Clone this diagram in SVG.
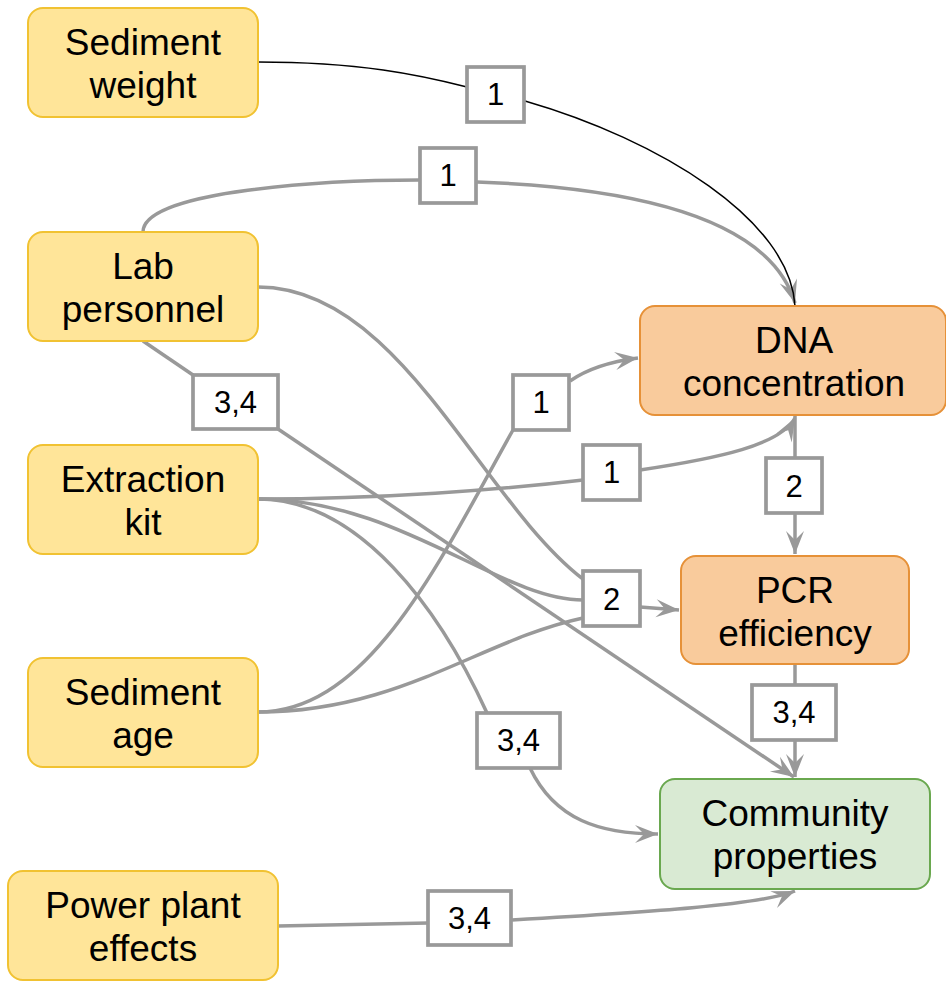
<svg xmlns="http://www.w3.org/2000/svg" width="946" height="981" viewBox="0 0 946 981">
<style>
.in rect{fill:#FFE599;stroke:#F1C232;stroke-width:2}
.or rect{fill:#F9CB9C;stroke:#E69138;stroke-width:2}
.gr rect{fill:#D9EAD3;stroke:#6AA84F;stroke-width:2}
.node text{font-family:"Liberation Sans",Arial,sans-serif;font-size:37px;fill:#000;text-anchor:middle}
.lbl rect{fill:#fff;stroke:#999;stroke-width:3.7}
.lbl text{font-family:"Liberation Sans",Arial,sans-serif;font-size:31px;fill:#000;text-anchor:middle}
.e{fill:none;stroke:#999;stroke-width:3.5}
.k{fill:none;stroke:#000;stroke-width:1.5}
</style>
<defs>
<marker id="arr" viewBox="-26 -11 28 22" refX="0" refY="0" markerWidth="28" markerHeight="22" markerUnits="userSpaceOnUse" orient="auto">
<path d="M0,0 L-23,-9 L-14,0 L-23,9 Z" fill="#999"/>
</marker>
</defs>
<g id="connectors">
<path class="e" d="M143,232 C143,190 330,180 420,180"/>
<path class="e" d="M477,182 C640,188 770,220 795,303" marker-end="url(#arr)"/>
<path class="e" d="M258,287 C400,287 480,500 583,579"/>
<path class="e" d="M143,341 L193,375"/>
<path class="e" d="M278,429 L794,777" marker-end="url(#arr)"/>
<path class="e" d="M258,499 C380,499 500,490 583,480"/>
<path class="e" d="M640,470 C720,458 780,445 795,418" marker-end="url(#arr)"/>
<path class="e" d="M258,499 C400,499 500,600 583,600"/>
<path class="e" d="M258,499 C360,499 440,610 487,713"/>
<path class="e" d="M530,768 C555,820 600,834 658,834" marker-end="url(#arr)"/>
<path class="e" d="M258,712 C370,712 440,560 513,430"/>
<path class="e" d="M570,381 C590,367 615,361 638,358" marker-end="url(#arr)"/>
<path class="e" d="M258,712 C400,712 480,640 583,618"/>
<path class="e" d="M640,607 L679,610" marker-end="url(#arr)"/>
<path class="e" d="M795,416 L795,458"/>
<path class="e" d="M795,513 L795,554" marker-end="url(#arr)"/>
<path class="e" d="M795,665 L795,685"/>
<path class="e" d="M795,740 L795,777" marker-end="url(#arr)"/>
<path class="e" d="M278,926 L428,923"/>
<path class="e" d="M512,920 C650,912 760,905 795,891" marker-end="url(#arr)"/>
<path class="k" d="M258,62 C360,62 420,75 467,87"/>
<path class="k" d="M525,101 C660,140 790,220 795,306"/>
</g>
<g id="labels">
<g class="lbl" id="l1"><rect x="467" y="67" width="57" height="55"/><text x="495.5" y="105">1</text></g>
<g class="lbl" id="l2"><rect x="420" y="148" width="56" height="55"/><text x="448" y="186">1</text></g>
<g class="lbl" id="l3"><rect x="193" y="375" width="85" height="54"/><text x="235.5" y="413">3,4</text></g>
<g class="lbl" id="l4"><rect x="513" y="375" width="56" height="55"/><text x="541" y="413">1</text></g>
<g class="lbl" id="l5"><rect x="583" y="445" width="57" height="55"/><text x="611.5" y="483">1</text></g>
<g class="lbl" id="l6"><rect x="766" y="458" width="56" height="55"/><text x="794" y="497">2</text></g>
<g class="lbl" id="l7"><rect x="583" y="571" width="57" height="55"/><text x="611.5" y="610">2</text></g>
<g class="lbl" id="l8"><rect x="752" y="685" width="84" height="55"/><text x="794" y="723">3,4</text></g>
<g class="lbl" id="l9"><rect x="477" y="713" width="83" height="55"/><text x="518.5" y="751">3,4</text></g>
<g class="lbl" id="l10"><rect x="428" y="891" width="83" height="54"/><text x="469.5" y="929">3,4</text></g>
</g>
<g id="sediment-weight" class="node in"><rect x="28" y="8" width="230" height="109" rx="15"/><text x="143" y="55">Sediment</text><text x="143" y="98">weight</text></g>
<g id="lab-personnel" class="node in"><rect x="28" y="232" width="230" height="109" rx="15"/><text x="143" y="279">Lab</text><text x="143" y="322">personnel</text></g>
<g id="extraction-kit" class="node in"><rect x="28" y="445" width="230" height="109" rx="15"/><text x="143" y="492">Extraction</text><text x="143" y="535">kit</text></g>
<g id="sediment-age" class="node in"><rect x="28" y="658" width="230" height="109" rx="15"/><text x="143" y="705">Sediment</text><text x="143" y="748">age</text></g>
<g id="power-plant" class="node in"><rect x="8" y="871" width="270" height="109" rx="15"/><text x="143" y="918">Power plant</text><text x="143" y="961">effects</text></g>
<g id="dna" class="node or"><rect x="640" y="306" width="306" height="109" rx="15"/><text x="794" y="353">DNA</text><text x="794" y="396">concentration</text></g>
<g id="pcr" class="node or"><rect x="681" y="556" width="228" height="108" rx="15"/><text x="795" y="603">PCR</text><text x="795" y="646">efficiency</text></g>
<g id="community" class="node gr"><rect x="660" y="779" width="270" height="110" rx="15"/><text x="795" y="826">Community</text><text x="795" y="869">properties</text></g>
</svg>
